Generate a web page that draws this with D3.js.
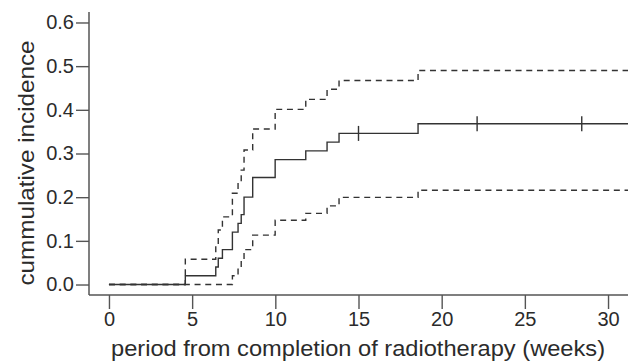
<!DOCTYPE html>
<html>
<head>
<meta charset="utf-8">
<script src="https://cdn.jsdelivr.net/npm/d3@7"></script>
<style>
  html, body { margin: 0; padding: 0; background: #fff; }
  svg { display: block; }
  text { font-family: "Liberation Sans", Arial, sans-serif; fill: #2b2b2b; }
</style>
</head>
<body>
<svg id="chart" width="628" height="362"></svg>
<script>
// ---- data ----
const times    = [0, 4.59, 6.42, 6.57, 6.82, 7.42, 7.76, 7.95, 8.12, 8.64, 9.99, 11.83, 13.11, 13.83, 18.58];
const estimate = [0, 0.02, 0.04, 0.06, 0.08, 0.12, 0.14, 0.16, 0.20, 0.245, 0.286, 0.306, 0.326, 0.346, 0.368];
const upper    = [0, 0.058, 0.09, 0.125, 0.155, 0.209, 0.235, 0.262, 0.308, 0.356, 0.401, 0.424, 0.447, 0.467, 0.49];
const lower    = [0, 0, 0, 0, 0, 0.02, 0.035, 0.055, 0.08, 0.113, 0.147, 0.163, 0.18, 0.1995, 0.216];
const censorTimes = [15.0, 22.13, 28.42];
const endTime = 31.2;
const xTicks = [0, 5, 10, 15, 20, 25, 30];
const yTicks = [0, 0.1, 0.2, 0.3, 0.4, 0.5, 0.6];
const xLabel = "period from completion of radiotherapy (weeks)";
const yLabel = "cummulative incidence";

// ---- scales ----
const svg = d3.select("#chart");
const x = d3.scaleLinear().domain([-1.2, 31.2]).range([89, 628]);
const y = d3.scaleLinear().domain([-0.024, 0.624]).range([295, 12]);
const ink = "#333";

function series(vals) {
  const pts = times.map((t, i) => [t, vals[i]]);
  pts.push([endTime, vals[vals.length - 1]]);
  return pts;
}
const line = d3.line().x(d => x(d[0])).y(d => y(d[1])).curve(d3.curveStepAfter);

// ---- axes ----
const yAxis = svg.append("g").attr("transform", "translate(89,0)")
  .call(d3.axisLeft(y).tickValues(yTicks).tickFormat(d3.format(".1f")).tickSize(13).tickPadding(2));
const xAxis = svg.append("g").attr("transform", "translate(0,295)")
  .call(d3.axisBottom(x).tickValues(xTicks).tickFormat(d3.format("d")).tickSize(14).tickPadding(3));
[yAxis, xAxis].forEach(g => {
  g.select(".domain").remove();
  g.selectAll(".tick line").attr("stroke", "#555").attr("stroke-width", 1.4);
  g.selectAll(".tick text").attr("font-size", 20).attr("fill", "#2b2b2b")
    .style("font-family", '"Liberation Sans", Arial, sans-serif');
});
svg.append("line").attr("x1", 89).attr("x2", 89).attr("y1", y(0.624)).attr("y2", y(-0.024))
  .attr("stroke", "#555").attr("stroke-width", 1.5);
svg.append("line").attr("x1", x(-1.2)).attr("x2", x(31.2)).attr("y1", 295).attr("y2", 295)
  .attr("stroke", "#555").attr("stroke-width", 1.5);

// ---- lines ----
const plot = svg.append("g");
plot.append("path").attr("d", line(series(lower))).attr("fill", "none")
  .attr("stroke", ink).attr("stroke-width", 1.4).attr("stroke-dasharray", "6 4.7");
plot.append("path").attr("d", line(series(upper))).attr("fill", "none")
  .attr("stroke", ink).attr("stroke-width", 1.4).attr("stroke-dasharray", "6 4.7");
plot.append("path").attr("d", line(series(estimate))).attr("fill", "none")
  .attr("stroke", ink).attr("stroke-width", 1.4);

// censor marks
const stepVal = t => { let v = estimate[0]; times.forEach((tt, i) => { if (tt <= t) v = estimate[i]; }); return v; };
plot.selectAll("line.censor").data(censorTimes).join("line").attr("class", "censor")
  .attr("x1", d => x(d)).attr("x2", d => x(d))
  .attr("y1", d => y(stepVal(d)) - 7.5).attr("y2", d => y(stepVal(d)) + 7.5)
  .attr("stroke", ink).attr("stroke-width", 1.4);

// ---- axis titles ----
svg.append("text").attr("x", 358).attr("y", 356).attr("text-anchor", "middle")
  .attr("font-size", 22).attr("textLength", 494).attr("lengthAdjust", "spacingAndGlyphs")
  .text(xLabel);
svg.append("text").attr("transform", "translate(34,163) rotate(-90)").attr("text-anchor", "middle")
  .attr("font-size", 22).attr("textLength", 245).attr("lengthAdjust", "spacingAndGlyphs")
  .text(yLabel);
</script>
</body>
</html>
